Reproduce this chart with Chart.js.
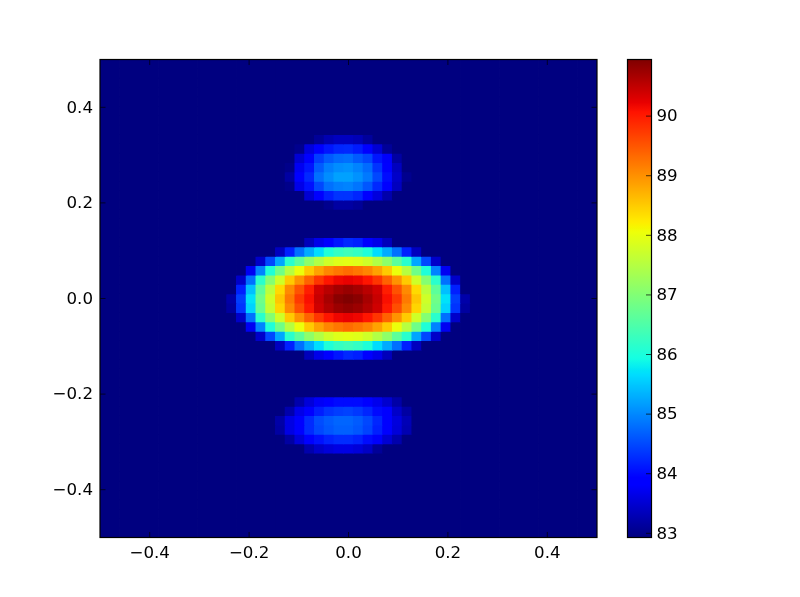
<!DOCTYPE html>
<html>
<head>
<meta charset="utf-8">
<title>Heatmap</title>
<script src="https://cdn.jsdelivr.net/npm/chart.js@4"></script>
<style>
  body { margin: 0; background: #fff; }
  canvas { position: absolute; left: 0; top: 0; }
</style>
</head>
<body>
<canvas id="mapa" width="800" height="597"></canvas>
<canvas id="barra" width="800" height="597"></canvas>
<script>
const xTicks = [-0.4, -0.2, 0, 0.2, 0.4];
const yTicks = [-0.4, -0.2, 0, 0.2, 0.4];
const barTicks = [83, 84, 85, 86, 87, 88, 89, 90];
const vmin = 82.93;
const vmax = 90.95;

// background level, ten columns at a time
const b = vmin;
const b10 = [b, b, b, b, b, b, b, b, b, b];
const blank = [...b10, ...b10, ...b10, ...b10, ...b10, b];

// upper lobe
const r8  = [...b10, ...b10, b, b, 83.10, 83.27, 83.37, 83.37, 83.31, 83.13, b, b, ...b10, ...b10, b];
const r9  = [...b10, ...b10, 83.03, 83.58, 83.82, 84.10, 84.22, 84.25, 84.14, 83.82, 83.51, 83.10, ...b10, ...b10, b];
const r10 = [...b10, ...b10, 83.51, 83.82, 84.41, 84.65, 84.77, 84.81, 84.65, 84.49, 84.10, 83.79, 83.17, b, b, b, b, b, b, b, b, b, ...b10, b];
const r11 = [...b10, b, b, b, b, b, b, b, b, b, 83.00, 83.72, 84.10, 84.65, 84.92, 85.04, 85.08, 84.96, 84.77, 84.33, 83.85, 83.37, b, b, b, b, b, b, b, b, b, ...b10, b];
const r12 = [...b10, b, b, b, b, b, b, b, b, b, 83.17, 83.85, 84.25, 84.81, 85.04, 85.20, 85.20, 85.08, 84.88, 84.49, 84.02, 83.44, 83.03, b, b, b, b, b, b, b, b, ...b10, b];
const r13 = [...b10, b, b, b, b, b, b, b, b, b, 83.00, 83.65, 84.06, 84.49, 84.81, 84.92, 84.96, 84.85, 84.61, 84.25, 83.85, 83.37, b, b, b, b, b, b, b, b, b, ...b10, b];
const r14 = [...b10, ...b10, b, 83.51, 83.85, 84.18, 84.33, 84.33, 84.22, 83.85, 83.58, 83.24, ...b10, ...b10, b];
const r15 = [...b10, ...b10, b, b, b, 83.03, 83.17, 83.17, 83.10, b, b, b, ...b10, ...b10, b];

// central lobe
const r19 = [...b10, ...b10, b, 83.34, 83.66, 83.85, 84.10, 84.25, 84.18, 83.85, 83.66, 83.34, ...b10, ...b10, b];
const r20 = [...b10, b, b, b, b, b, b, b, b, 83.37, 84.18, 84.81, 85.28, 85.67, 86.04, 86.24, 86.34, 86.24, 86.04, 85.67, 85.28, 84.81, 84.18, 83.37, b, b, b, b, b, b, b, ...b10, b];
const r21 = [...b10, b, b, b, b, b, b, 83.44, 84.49, 85.24, 86.14, 86.63, 87.12, 87.46, 87.75, 87.90, 87.95, 87.90, 87.75, 87.46, 87.12, 86.63, 86.14, 85.24, 84.49, 83.44, b, b, b, b, b, ...b10, b];
const r22 = [...b10, b, b, b, b, b, 83.72, 84.96, 86.04, 86.82, 87.51, 88.04, 88.51, 88.85, 89.10, 89.23, 89.32, 89.23, 89.10, 88.85, 88.51, 88.04, 87.51, 86.82, 86.04, 84.96, 83.72, b, b, b, b, ...b10, b];
const r23 = [...b10, b, b, b, b, 83.44, 84.81, 86.14, 87.02, 87.75, 88.51, 88.98, 89.40, 89.78, 90.05, 90.18, 90.22, 90.18, 90.05, 89.78, 89.40, 88.98, 88.51, 87.75, 87.02, 86.14, 84.81, 83.44, b, b, b, ...b10, b];
const r24 = [...b10, b, b, b, b, 84.18, 85.44, 86.63, 87.56, 88.38, 89.06, 89.53, 89.98, 90.38, 90.55, 90.70, 90.78, 90.70, 90.55, 90.38, 89.98, 89.53, 89.06, 88.38, 87.56, 86.63, 85.44, 84.18, b, b, b, ...b10, b];
const r25 = [...b10, b, b, b, 83.22, 84.41, 85.71, 86.82, 87.75, 88.55, 89.19, 89.74, 90.10, 90.45, 90.68, 90.88, 90.95, 90.88, 90.68, 90.45, 90.10, 89.74, 89.19, 88.55, 87.75, 86.82, 85.71, 84.41, 83.22, b, b, ...b10, b];
const r26 = [...b10, b, b, b, 83.15, 84.33, 85.59, 86.73, 87.65, 88.42, 89.06, 89.57, 90.02, 90.40, 90.60, 90.75, 90.82, 90.75, 90.60, 90.40, 90.02, 89.57, 89.06, 88.42, 87.65, 86.73, 85.59, 84.33, 83.15, b, b, ...b10, b];

// lower lobe
const r36 = [...b10, ...b10, 83.24, 83.55, 83.75, 83.88, 84.00, 84.00, 84.00, 83.88, 83.69, 83.48, 83.20, b, b, b, b, b, b, b, b, b, ...b10, b];
const r37 = [...b10, b, b, b, b, b, b, b, b, b, 83.24, 83.65, 83.88, 84.16, 84.33, 84.41, 84.45, 84.37, 84.22, 84.00, 83.85, 83.44, 83.17, b, b, b, b, b, b, b, b, ...b10, b];
const r38 = [...b10, b, b, b, b, b, b, b, b, 83.20, 83.62, 83.88, 84.26, 84.53, 84.65, 84.73, 84.73, 84.65, 84.49, 84.22, 83.88, 83.58, 83.31, b, b, b, b, b, b, b, b, ...b10, b];
const r39 = [...b10, b, b, b, b, b, b, b, b, 83.17, 83.62, 83.88, 84.26, 84.49, 84.61, 84.69, 84.69, 84.61, 84.45, 84.18, 83.88, 83.55, 83.27, b, b, b, b, b, b, b, b, ...b10, b];
const r40 = [...b10, b, b, b, b, b, b, b, b, b, 83.17, 83.55, 83.88, 84.06, 84.20, 84.28, 84.28, 84.20, 84.02, 83.79, 83.51, 83.24, b, b, b, b, b, b, b, b, b, ...b10, b];
const r41 = [...b10, ...b10, b, 83.24, 83.44, 83.55, 83.62, 83.62, 83.55, 83.41, 83.10, b, ...b10, ...b10, b];

// top row of the picture first
const heatRows = [
  blank, blank, blank, blank, blank, blank, blank, blank,
  r8, r9, r10, r11, r12, r13, r14, r15,
  blank, blank, blank,
  r19, r20, r21, r22, r23, r24, r25, r26, r23, r22, r21, r20, r19,
  blank, blank, blank, blank,
  r36, r37, r38, r39, r40, r41,
  blank, blank, blank, blank, blank, blank, blank, blank, blank
];

const jetRed = [[0, 0], [0.35, 0], [0.66, 1], [0.89, 1], [1, 0.5]];
const jetGreen = [[0, 0], [0.125, 0], [0.375, 1], [0.64, 1], [0.91, 0], [1, 0]];
const jetBlue = [[0, 0.5], [0.11, 1], [0.34, 1], [0.65, 0], [1, 0]];

function channel(stops, t) {
  for (let i = 1; i < stops.length; i++) {
    if (t <= stops[i][0]) {
      const f = (t - stops[i - 1][0]) / (stops[i][0] - stops[i - 1][0]);
      return stops[i - 1][1] + f * (stops[i][1] - stops[i - 1][1]);
    }
  }
  return stops[stops.length - 1][1];
}

function jet(t) {
  t = Math.max(0, Math.min(1, t));
  const r = Math.round(255 * channel(jetRed, t));
  const g = Math.round(255 * channel(jetGreen, t));
  const bl = Math.round(255 * channel(jetBlue, t));
  return 'rgb(' + r + ',' + g + ',' + bl + ')';
}

function colorOf(v) {
  return jet((v - vmin) / (vmax - vmin));
}

// ticks point inwards and the frame sits on top of the cells
function framePlugin(sides) {
  return {
    id: 'frame',
    afterDraw(chart) {
      const ctx = chart.ctx;
      const a = chart.chartArea;
      const len = 5.5;
      ctx.save();
      ctx.strokeStyle = '#000';
      ctx.lineWidth = 0.7;
      ctx.beginPath();
      if (sides.x) {
        chart.scales.x.ticks.forEach(t => {
          const px = chart.scales.x.getPixelForValue(t.value);
          ctx.moveTo(px, a.bottom); ctx.lineTo(px, a.bottom - len);
          ctx.moveTo(px, a.top); ctx.lineTo(px, a.top + len);
        });
      }
      chart.scales.y.ticks.forEach(t => {
        const py = chart.scales.y.getPixelForValue(t.value);
        if (sides.left) { ctx.moveTo(a.left, py); ctx.lineTo(a.left + len, py); }
        ctx.moveTo(a.right, py); ctx.lineTo(a.right - len, py);
      });
      ctx.stroke();
      ctx.lineWidth = 1.2;
      ctx.strokeRect(a.left, a.top, a.right - a.left, a.bottom - a.top);
      ctx.restore();
    }
  };
}

function minusLabel(digits) {
  return v => Number(v).toFixed(digits).replace('-', '\u2212');
}

const tickFont = { family: 'DejaVu Sans', size: 16.67 };

// one dataset per row, floating bars on the two linear scales
const n = heatRows.length;
const cellDatasets = heatRows.map((row, r) => ({
  data: row.map((v, c) => ({
    x: -0.5 + (c + 0.5) / n,
    y: [0.5 - (r + 1) / n, 0.5 - r / n]
  })),
  backgroundColor: row.map(colorOf),
  borderWidth: 0,
  inflateAmount: 0.4,
  grouped: false,
  barPercentage: 1,
  categoryPercentage: 1
}));

new Chart(document.getElementById('mapa'), {
  type: 'bar',
  data: { datasets: cellDatasets },
  options: {
    responsive: false,
    animation: false,
    events: [],
    layout: { padding: { left: 0, right: 203, top: 59.5, bottom: 0 } },
    plugins: { legend: { display: false }, tooltip: { enabled: false } },
    scales: {
      x: {
        type: 'linear',
        min: -0.5,
        max: 0.5,
        offset: false,
        grid: { display: false, drawTicks: false },
        border: { display: false },
        afterBuildTicks: s => { s.ticks = xTicks.map(v => ({ value: v })); },
        afterFit: s => { s.height = 59.5; },
        ticks: {
          color: '#000',
          font: tickFont,
          padding: 6,
          maxRotation: 0,
          autoSkip: false,
          callback: minusLabel(1)
        }
      },
      y: {
        type: 'linear',
        min: -0.5,
        max: 0.5,
        grid: { display: false, drawTicks: false },
        border: { display: false },
        afterBuildTicks: s => { s.ticks = yTicks.map(v => ({ value: v })); },
        afterFit: s => { s.width = 100; },
        ticks: {
          color: '#000',
          font: tickFont,
          padding: 7,
          labelOffset: 1,
          autoSkip: false,
          callback: minusLabel(1)
        }
      }
    }
  },
  plugins: [framePlugin({ x: true, left: true })]
});

// colour bar: one floating bar filled with the jet ramp
new Chart(document.getElementById('barra'), {
  type: 'bar',
  data: {
    labels: [''],
    datasets: [{
      data: [[vmin, vmax]],
      borderWidth: 0,
      barPercentage: 1,
      categoryPercentage: 1,
      backgroundColor: c => {
        const a = c.chart.chartArea;
        if (!a) return '#00007f';
        const g = c.chart.ctx.createLinearGradient(0, a.bottom, 0, a.top);
        for (let i = 0; i <= 255; i++) g.addColorStop(i / 255, jet(i / 255));
        return g;
      }
    }]
  },
  options: {
    responsive: false,
    animation: false,
    events: [],
    layout: { padding: { left: 627.5, right: 0, top: 59.5, bottom: 59.5 } },
    plugins: { legend: { display: false }, tooltip: { enabled: false } },
    scales: {
      x: {
        display: false,
        offset: true,
        grid: { display: false }
      },
      y: {
        position: 'right',
        min: vmin,
        max: vmax,
        grid: { display: false, drawTicks: false },
        border: { display: false },
        afterBuildTicks: s => { s.ticks = barTicks.map(v => ({ value: v })); },
        afterFit: s => { s.width = 148.5; },
        ticks: {
          color: '#000',
          font: tickFont,
          padding: 5,
          labelOffset: 1,
          autoSkip: false,
          callback: minusLabel(0)
        }
      }
    }
  },
  plugins: [framePlugin({ x: false, left: false })]
});
</script>
</body>
</html>
